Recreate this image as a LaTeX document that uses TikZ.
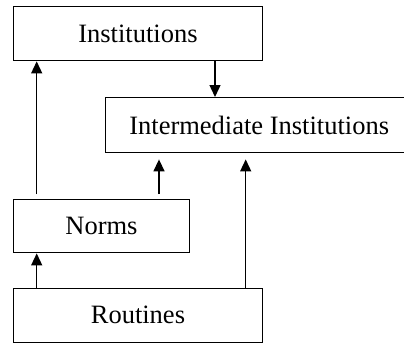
\documentclass[tikz,border=0pt]{standalone}
\usepackage{fontspec}
\setmainfont{Liberation Serif}
\usetikzlibrary{arrows.meta}
\begin{document}
\begin{tikzpicture}[x=1pt,y=-1pt,
  box/.style={draw, line width=1.4pt, inner sep=0pt, anchor=north west,
    font=\fontsize{26.5}{30}\selectfont},
  arr/.style={line width=1.4pt, -{Triangle[width=11pt,length=12pt]}}]
\useasboundingbox (0,0) rectangle (404,343);
\node[box, minimum width=249.5pt, minimum height=54pt] (inst) at (12.5,6) {Institutions};
\node[box, minimum width=308pt, minimum height=55pt] (inter) at (104.5,97) {Intermediate Institutions};
\node[box, minimum width=176.5pt, minimum height=53pt] (norms) at (12.5,199) {\raisebox{1.5pt}{Norms}};
\node[box, minimum width=249.5pt, minimum height=53.5pt] (rout) at (12.5,288) {\raisebox{1.5pt}{Routines}};
\draw[arr, shorten <=5pt] (norms.north -| 36.7,0) -- (inst.south -| 36.7,0);
\draw[arr] (inst.south -| 215,0) -- (inter.north -| 215,0);
\draw[arr, shorten <=5pt, shorten >=6pt] (norms.north -| 159,0) -- (inter.south -| 159,0);
\draw[arr, shorten >=6pt] (rout.north -| 245.7,0) -- (inter.south -| 245.7,0);
\draw[arr] (rout.north -| 36.7,0) -- (norms.south -| 36.7,0);
\end{tikzpicture}
\end{document}
